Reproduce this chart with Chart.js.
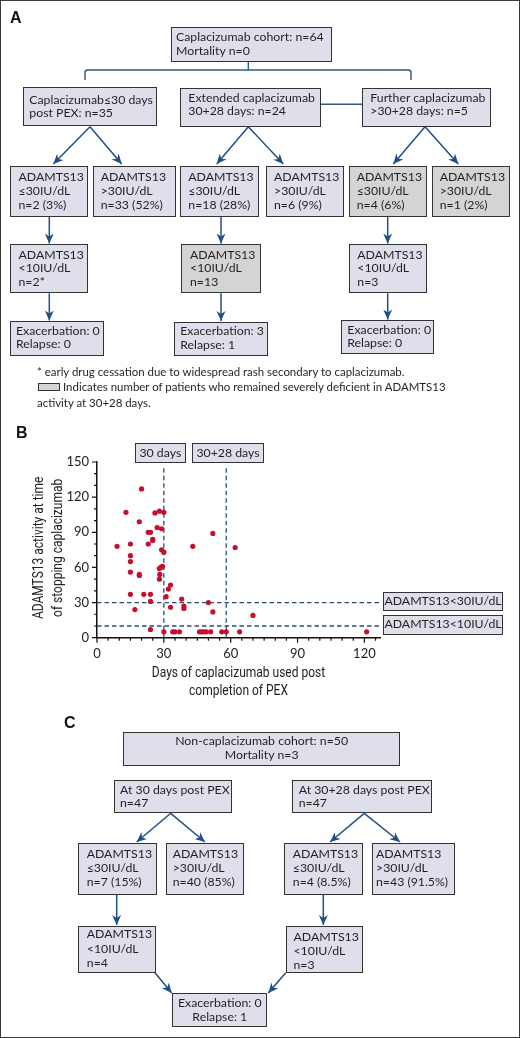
<!DOCTYPE html>
<html>
<head>
<meta charset="utf-8">
<script src="https://cdn.jsdelivr.net/npm/chart.js@4.4.1/dist/chart.umd.min.js"></script>
<style>
  html, body { margin: 0; padding: 0; background: #fff; }
  #page { position: relative; width: 520px; height: 1038px; overflow: hidden; font-family: Lato, 'Noto Sans', sans-serif; color: #231f20; }
  #frame { position: absolute; left: 0; top: 0; width: 520px; height: 1038px; box-sizing: border-box; border: 1.5px solid #3a3a3a; pointer-events: none; }
  .box { position: absolute; box-sizing: border-box; border: 1.5px solid #333; background: #dfdfec; font-size: 12.3px; white-space: nowrap; }
  .box.gray { background: #d4d4d4; }
  .box .txt { position: absolute; }
  .box.center .txt { left: 0 !important; right: 0; text-align: center; }
  .panel { position: absolute; font: bold 16px 'Liberation Sans', Arial, sans-serif; color: #111; }
  .note { position: absolute; font-size: 11.45px; white-space: nowrap; line-height: 14px; }
  #chartWrap { position: absolute; left: 0; top: 440px; width: 520px; height: 270px; }
  svg { position: absolute; left: 0; top: 0; }
</style>
</head>
<body>
<div id="page">
  <div id="chartWrap"><canvas id="scatter"></canvas></div>
  <svg id="links" width="520" height="1038"></svg>
  <div class="panel" style="left:10px;top:9px;">A</div>
  <div class="panel" style="left:16px;top:424px;">B</div>
  <div class="panel" style="left:64px;top:714px;">C</div>
  <div class="note" style="left:37px;top:365px;">* early drug cessation due to widespread rash secondary to caplacizumab.</div>
  <div style="position:absolute;left:37.7px;top:382.7px;width:22.3px;height:8.3px;box-sizing:border-box;border:1.2px solid #333;background:#d4d4d4;"></div>
  <div class="note" style="left:63px;top:380px;">Indicates number of patients who remained severely deficient in ADAMTS13</div>
  <div class="note" style="left:37px;top:396px;">activity at 30+28 days.</div>
  <div id="frame"></div>
</div>
<script>
// scatter values (days on drug vs ADAMTS13 activity at stop)
const daysOnDrug = [20, 13, 26, 28, 30, 19, 27, 29, 23, 24, 52, 15, 23, 25, 25, 9, 43, 62, 29, 30,
  15, 15, 15, 19, 19, 28, 28.6, 29.4, 28.2, 28, 33, 32, 15, 21, 24, 31, 38, 24, 39, 39,
  33, 50, 17, 52, 70, 24, 30, 34, 35, 37, 46, 47, 48, 49, 51, 56, 58, 64, 121];
const adamtsAtStop = [127, 107, 106.5, 108, 107, 99, 94, 93, 90, 90, 89, 80, 80, 84, 83, 78, 78, 77, 75, 73,
  70, 65, 56, 54, 53, 59, 60, 61, 54, 50, 45, 41.5, 37, 37, 37, 35, 33, 31, 27, 25,
  26, 30, 24, 22, 19, 7, 5, 5, 5, 5, 5, 5, 5, 5, 5, 5, 5, 5, 5];
const xTickLabels = [0, 30, 60, 90, 120];
const yTickLabels = [0, 30, 60, 90, 120, 150];
const cutoffDays = [30, 58];
const cutoffActivity = [30, 10];
const xTitle = ['Days of caplacizumab used post', 'completion of PEX'];
const yTitle = ['ADAMTS13 activity at time', 'of stopping caplacizumab'];

const X_MAX = 127;
const VLINE_TOP = 147;
const DASH_COLOR = '#2c4d70';

const page = document.getElementById('page');

function box(l, t, r, b, lines, o = {}) {
  const d = document.createElement('div');
  d.className = 'box' + (o.gray ? ' gray' : '') + (o.center ? ' center' : '');
  d.style.cssText = `left:${l}px;top:${t}px;width:${r - l}px;height:${b - t}px;`;
  const lh = o.lh || 14;
  const inner = document.createElement('div');
  inner.className = 'txt';
  inner.style.cssText = `top:${o.first - t - lh / 2 - 1.5}px;left:${o.pad || 6}px;line-height:${lh}px;`;
  inner.innerHTML = lines.join('<br>');
  d.appendChild(inner);
  page.insertBefore(d, document.getElementById('frame'));
}

// panel A
box(171, 27.3, 331.7, 61.7, ['Caplacizumab cohort: n=64', 'Mortality n=0'], { first: 37.3, lh: 14.4, pad: 4 });
box(23.3, 87.3, 156.7, 126, ['Caplacizumab≤30 days', 'post PEX: n=35'], { first: 100, lh: 13.3, pad: 5 });
box(180.3, 88, 320.7, 126.7, ['Extended caplacizumab', '30+28 days: n=24'], { first: 97.7, lh: 13.3, pad: 7 });
box(362.3, 88, 491, 126.7, ['Further caplacizumab', '>30+28 days: n=5'], { first: 97.7, lh: 13.3, pad: 7 });

box(10, 166, 88.3, 216.7, ['ADAMTS13', '≤30IU/dL', 'n=2 (3%)'], { first: 177, pad: 7.5 });
box(92.7, 166, 176, 216.7, ['ADAMTS13', '>30IU/dL', 'n=33 (52%)'], { first: 177, pad: 7 });
box(180.3, 166, 259.3, 216.7, ['ADAMTS13', '≤30IU/dL', 'n=18 (28%)'], { first: 177, pad: 7 });
box(266, 166, 344.3, 216.7, ['ADAMTS13', '>30IU/dL', 'n=6 (9%)'], { first: 177, pad: 7 });
box(348.7, 166, 427, 216.7, ['ADAMTS13', '≤30IU/dL', 'n=4 (6%)'], { first: 177, pad: 7, gray: true });
box(431.7, 166, 510, 216.7, ['ADAMTS13', '>30IU/dL', 'n=1 (2%)'], { first: 177, pad: 7, gray: true });

box(10, 244.3, 88.3, 293.3, ['ADAMTS13', '<10IU/dL', 'n=2*'], { first: 255, lh: 13.8, pad: 7.5 });
box(181, 244.3, 261, 293.3, ['ADAMTS13', '<10IU/dL', 'n=13'], { first: 255, lh: 13.8, pad: 8, gray: true });
box(349.3, 244.3, 426.7, 293.3, ['ADAMTS13', '<10IU/dL', 'n=3'], { first: 255, lh: 13.8, pad: 7 });

box(10, 321, 104, 355.7, ['Exacerbation: 0', 'Relapse: 0'], { first: 331, lh: 13.3, pad: 5 });
box(173.7, 321.7, 268.3, 356, ['Exacerbation: 3', 'Relapse: 1'], { first: 331.5, lh: 13.3, pad: 5.5 });
box(341.3, 320, 434, 354.3, ['Exacerbation: 0', 'Relapse: 0'], { first: 330, lh: 13.3, pad: 5 });

// panel B labels
box(135, 443.3, 185.7, 463.3, ['30 days'], { first: 453.3, center: true });
box(191.7, 443.3, 264.3, 463.3, ['30+28 days'], { first: 453.3, center: true });
box(382.7, 592, 503.3, 611.3, ['ADAMTS13&lt;30IU/dL'], { first: 601.7, center: true });
box(382.7, 615.3, 503.3, 634.7, ['ADAMTS13&lt;10IU/dL'], { first: 625, center: true });

// panel C
box(123.3, 731.7, 400, 766, ['Non-caplacizumab cohort: n=50', 'Mortality n=3'], { first: 741.7, lh: 14.3, center: true });
box(114, 780, 232.3, 813.3, ['At 30 days post PEX', 'n=47'], { first: 790, lh: 13.3, pad: 5 });
box(291.7, 780, 432.3, 813.3, ['At 30+28 days post PEX', 'n=47'], { first: 790, lh: 13.3, pad: 6 });

box(77.7, 842.7, 156.7, 895, ['ADAMTS13', '≤30IU/dL', 'n=7 (15%)'], { first: 854.3, pad: 8 });
box(165.7, 842.7, 244.3, 895, ['ADAMTS13', '>30IU/dL', 'n=40 (85%)'], { first: 854.3, pad: 6 });
box(284.3, 842.7, 363.3, 895, ['ADAMTS13', '≤30IU/dL', 'n=4 (8.5%)'], { first: 854.3, pad: 7.5 });
box(372, 842.7, 455.3, 895, ['ADAMTS13', '>30IU/dL', 'n=43 (91.5%)'], { first: 854.3, pad: 3 });

box(78.3, 925.7, 156, 972.7, ['ADAMTS13', '<10IU/dL', 'n=4'], { first: 935, lh: 14.2, pad: 7.5 });
box(285.7, 925.7, 362.7, 972.7, ['ADAMTS13', '<10IU/dL', 'n=3'], { first: 937.7, lh: 14, pad: 6.8 });
box(172.3, 993.3, 267.3, 1027.3, ['Exacerbation: 0', 'Relapse: 1'], { first: 1003.3, lh: 14, center: true });

// connectors and arrows
const arrows = [
  [90, 126.7, 53.3, 164], [90, 126.7, 121.7, 164],
  [248.3, 126.7, 216.7, 164], [248.3, 126.7, 283.3, 164],
  [425, 126.7, 393.3, 164], [425, 126.7, 458.3, 164],
  [49.3, 216.7, 49.3, 243.5], [221, 216.7, 221, 243.5], [387.7, 216.7, 387.7, 243.5],
  [49.3, 293.3, 49.3, 320.5], [221, 293.3, 221, 321], [387.7, 293.3, 387.7, 319.5],
  [170.7, 813.3, 136.7, 842], [170.7, 813.3, 205, 842],
  [364.3, 813.3, 330, 842], [364.3, 813.3, 400, 842],
  [116.7, 895, 116.7, 925], [323.3, 895, 323.3, 925],
  [155, 972.7, 171.7, 993], [285.7, 972.7, 268.3, 993]
];
let svg = `<defs><marker id="ah" markerUnits="userSpaceOnUse" markerWidth="10" markerHeight="10"
  viewBox="0 0 10 10" refX="10" refY="5" orient="auto"><path d="M0,0.5 L10,5 L0,9.5 L3,5 z" fill="#1f4f86"/></marker></defs>`;
svg += `<path d="M85,80 V72.5 Q85,70 87.5,70 H408.5 Q411,70 411,72.5 V80 M248.3,61.7 V70 M320.7,104.3 H362.3"
  fill="none" stroke="#2d5a87" stroke-width="1.4"/>`;
arrows.forEach(([x1, y1, x2, y2]) => {
  svg += `<line x1="${x1}" y1="${y1}" x2="${x2}" y2="${y2}" stroke="#1f4f86" stroke-width="1.5" marker-end="url(#ah)"/>`;
});
document.getElementById('links').innerHTML = svg;

// tick marks: long at labelled values, short otherwise
const tickMarks = {
  id: 'tickMarks',
  afterDraw(chart) {
    const { ctx, scales: { x, y } } = chart;
    ctx.save();
    ctx.strokeStyle = '#111';
    ctx.lineWidth = 1.2;
    ctx.beginPath();
    x.ticks.forEach(t => {
      const px = x.getPixelForValue(t.value);
      const len = xTickLabels.includes(t.value) ? 5 : 3;
      ctx.moveTo(px, x.top); ctx.lineTo(px, x.top + len);
    });
    y.ticks.forEach(t => {
      const py = y.getPixelForValue(t.value);
      const len = yTickLabels.includes(t.value) ? 5 : 3;
      ctx.moveTo(y.right, py); ctx.lineTo(y.right - len, py);
    });
    ctx.stroke();
    ctx.restore();
  }
};

// axis titles in a narrow face (no condensed font installed, so squeeze horizontally)
const axisTitles = {
  id: 'axisTitles',
  afterDraw(chart) {
    const { ctx, chartArea: a } = chart;
    const squeeze = 0.8;
    ctx.save();
    ctx.font = '15px Roboto, sans-serif';
    ctx.fillStyle = '#222';
    ctx.textAlign = 'center';
    ctx.textBaseline = 'middle';
    xTitle.forEach((line, i) => {
      ctx.save();
      ctx.translate((a.left + a.right) / 2, a.bottom + 35.5 + i * 18);
      ctx.scale(squeeze, 1);
      ctx.fillText(line, 0, 0);
      ctx.restore();
    });
    yTitle.forEach((line, i) => {
      ctx.save();
      ctx.translate(39 + i * 19, (a.top + a.bottom) / 2 - 2);
      ctx.rotate(-Math.PI / 2);
      ctx.scale(squeeze, 1);
      ctx.fillText(line, 0, 0);
      ctx.restore();
    });
    ctx.restore();
  }
};

const dashed = {
  showLine: true, pointRadius: 0, borderColor: DASH_COLOR, borderWidth: 1.3, borderDash: [4.5, 3], order: 2
};

const datasets = [{
  data: daysOnDrug.map((d, i) => ({ x: d, y: adamtsAtStop[i] })),
  backgroundColor: '#c4102c', borderWidth: 0, pointRadius: 2.6, order: 1
}];
cutoffDays.forEach(d => datasets.push({ ...dashed, data: [{ x: d, y: 0 }, { x: d, y: VLINE_TOP }] }));
cutoffActivity.forEach(a => datasets.push({ ...dashed, data: [{ x: 0, y: a }, { x: X_MAX, y: a }] }));

const tickFont = { family: 'Lato', size: 13 };

new Chart(document.getElementById('scatter').getContext('2d'), {
  type: 'scatter',
  data: { datasets },
  options: {
    responsive: true,
    maintainAspectRatio: false,
    animation: false,
    layout: { padding: { top: 22, right: 140, left: 0, bottom: 0 } },
    plugins: { legend: { display: false }, tooltip: { enabled: false } },
    scales: {
      x: {
        min: 0, max: X_MAX,
        border: { color: '#111', width: 1.5 },
        grid: { drawOnChartArea: false, color: 'transparent', tickLength: 5 },
        ticks: {
          stepSize: 5, includeBounds: false, autoSkip: false, maxRotation: 0, padding: 3,
          color: '#222', font: tickFont,
          callback: v => xTickLabels.includes(v) ? v : ''
        },
        afterFit: s => { s.height = 72.3; }
      },
      y: {
        min: 0, max: 150,
        border: { color: '#111', width: 1.5 },
        grid: { drawOnChartArea: false, color: 'transparent', tickLength: 5 },
        ticks: {
          stepSize: 10, autoSkip: false, padding: 3,
          color: '#222', font: tickFont,
          callback: v => yTickLabels.includes(v) ? v : ''
        },
        afterFit: s => { s.width = 97; }
      }
    }
  },
  plugins: [tickMarks, axisTitles]
});
</script>
</body>
</html>
